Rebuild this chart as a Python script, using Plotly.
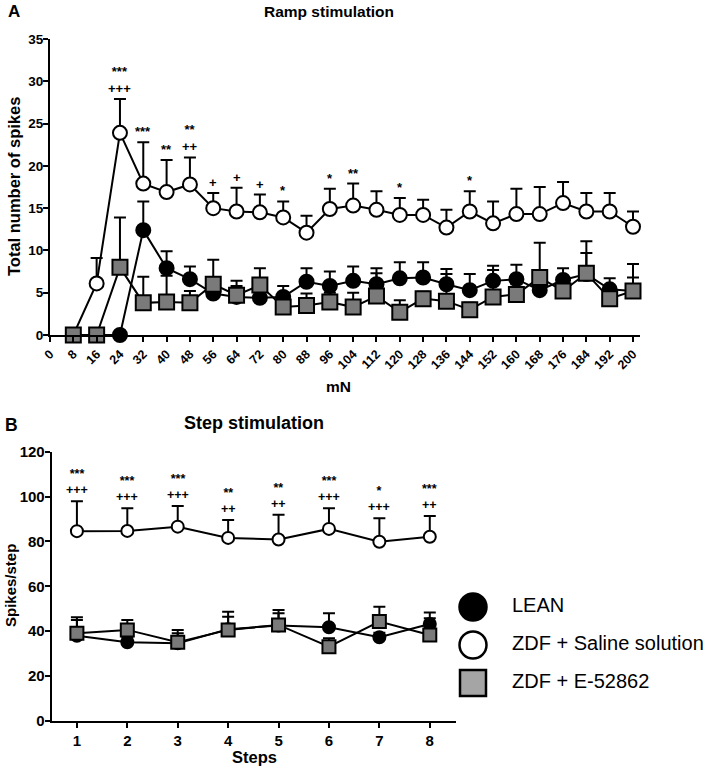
import plotly.graph_objects as go

# ---------------- Panel A data (ramp stimulation) ----------------
mN = [8, 16, 24, 32, 40, 48, 56, 64, 72, 80, 88, 96, 104, 112, 120, 128, 136, 144,
      152, 160, 168, 176, 184, 192, 200]
lean_a = [0, 0, 0, 12.4, 7.9, 6.6, 4.9, 4.5, 4.4, 4.5, 6.3, 5.8, 6.4, 6.0, 6.7, 6.8,
          6.0, 5.3, 6.4, 6.6, 5.3, 6.5, 7.2, 5.4, 5.2]
lean_a_sem = [0, 0, 0, 3.4, 2.0, 1.5, 0.6, 1.9, 0.8, 1.3, 1.6, 1.7, 1.7, 1.9, 1.9, 1.8,
              1.8, 1.9, 1.8, 1.7, 0.7, 1.4, 2.5, 1.3, 1.6]
saline_a = [0, 6.1, 23.9, 17.9, 16.9, 17.8, 15.0, 14.6, 14.5, 13.9, 12.1, 14.9, 15.3,
            14.8, 14.2, 14.2, 12.7, 14.6, 13.2, 14.3, 14.3, 15.6, 14.6, 14.6, 12.8]
saline_a_sem = [0, 3.0, 4.0, 4.9, 3.8, 3.2, 1.8, 2.8, 2.1, 1.9, 2.0, 2.4, 2.6, 2.2, 2.0,
                1.8, 2.1, 2.4, 2.6, 3.0, 3.2, 2.5, 2.2, 2.2, 1.8]
e528_a = [0, 0, 8.0, 3.8, 3.9, 3.8, 6.0, 4.7, 5.9, 3.3, 3.5, 3.9, 3.3, 4.6, 2.7, 4.3,
          4.0, 3.0, 4.5, 4.8, 6.8, 5.2, 7.3, 4.3, 5.2]
e528_a_sem = [0, 0, 5.9, 3.1, 3.1, 1.4, 2.9, 1.1, 2.0, 0.6, 1.4, 1.1, 1.7, 2.7, 1.4, 0.8,
              3.2, 0.8, 3.2, 1.2, 4.1, 0.8, 3.8, 1.2, 3.2]
x_ticks_a = list(range(0, 201, 8))
y_ticks_a = [0, 5, 10, 15, 20, 25, 30, 35]

sig_a_x = [24, 32, 40, 48, 56, 64, 72, 80, 96, 104, 120, 144]
sig_a_star = ["***", "***", "**", "**", "", "", "", "*", "*", "**", "*", "*"]
sig_a_plus = ["+++", "", "", "++", "+", "+", "+", "", "", "", "", ""]

# ---------------- Panel B data (step stimulation) ----------------
steps = [1, 2, 3, 4, 5, 6, 7, 8]
lean_b = [38.0, 35.1, 34.6, 40.9, 42.5, 41.8, 37.3, 43.2]
lean_b_sem = [7.0, 2.0, 4.5, 7.8, 7.0, 6.2, 2.0, 5.2]
saline_b = [84.6, 84.7, 86.6, 81.6, 80.9, 85.6, 79.9, 82.1]
saline_b_sem = [13.3, 10.1, 9.2, 8.0, 11.0, 9.2, 10.4, 9.3]
e528_b = [39.1, 40.6, 35.1, 40.6, 42.8, 33.1, 44.3, 38.3]
e528_b_sem = [7.1, 4.4, 5.5, 5.9, 5.2, 3.8, 6.6, 7.5]
y_ticks_b = [0, 20, 40, 60, 80, 100, 120]

sig_b_star = ["***", "***", "***", "**", "**", "***", "*", "***"]
sig_b_plus = ["+++", "+++", "+++", "++", "++", "+++", "+++", "++"]

legend_labels = ["LEAN", "ZDF + Saline solution", "ZDF + E-52862"]

W, H = 709, 767
FONT = "Liberation Sans, Arial, sans-serif"
GREY = "#7a7a7a"
GREY_LEG = "#a5a5a5"


def px(x):
    return x / W


def py(y):
    return 1 - y / H


series = [
    ("LEAN", "circle", "black", "black"),
    ("ZDF + Saline solution", "circle", "white", "black"),
    ("ZDF + E-52862", "square", GREY, "black"),
]

fig = go.Figure()

data_a = [(lean_a, lean_a_sem), (saline_a, saline_a_sem), (e528_a, e528_a_sem)]
data_b = [(lean_b, lean_b_sem), (saline_b, saline_b_sem), (e528_b, e528_b_sem)]

for (name, sym, fill, edge), (ya, ea) in zip(series, data_a):
    fig.add_trace(go.Scatter(
        x=mN, y=ya, mode="lines+markers", name=name, showlegend=False,
        xaxis="x", yaxis="y", cliponaxis=False,
        line=dict(color="black", width=2),
        marker=dict(symbol=sym, size=15 if sym == "square" else 14, color=fill,
                    opacity=1, line=dict(color=edge, width=2)),
        error_y=dict(type="data", symmetric=False, array=ea,
                     arrayminus=[0] * len(ea), color="black", thickness=2, width=6),
    ))

for (name, sym, fill, edge), (yb, eb) in zip(series, data_b):
    fig.add_trace(go.Scatter(
        x=steps, y=yb, mode="lines+markers", name=name, showlegend=False,
        xaxis="x2", yaxis="y2", cliponaxis=False,
        line=dict(color="black", width=2),
        marker=dict(symbol=sym, size=13 if sym == "square" else 12, color=fill,
                    opacity=1, line=dict(color=edge, width=2)),
        error_y=dict(type="data", symmetric=False, array=eb,
                     arrayminus=[0] * len(eb), color="black", thickness=2, width=6),
    ))

# custom legend (large symbols)
leg_fill = ["black", "white", GREY_LEG]
leg_sym = ["circle", "circle", "square"]
fig.add_trace(go.Scatter(
    x=[0] * 3, y=legend_labels, mode="markers", showlegend=False,
    xaxis="x3", yaxis="y3", cliponaxis=False,
    marker=dict(symbol=leg_sym, size=[27, 27, 26], color=leg_fill, opacity=1,
                line=dict(color="black", width=2.5)),
))
fig.add_trace(go.Scatter(
    x=[1] * 3, y=legend_labels, mode="text", text=legend_labels,
    textposition="middle right", showlegend=False, xaxis="x3", yaxis="y3",
    cliponaxis=False,
    textfont=dict(family=FONT, size=20, color="black"),
))

axis_common = dict(showline=True, linecolor="black", linewidth=2, ticks="outside",
                   ticklen=5, tickwidth=2, tickcolor="black", showgrid=False,
                   zeroline=False, automargin=False)

fig.update_layout(
    template="none",
    width=W, height=H, margin=dict(l=0, r=0, t=0, b=0, autoexpand=False),
    plot_bgcolor="white", paper_bgcolor="white",
    xaxis=dict(**axis_common, domain=[px(50), px(640)], range=[0, 202.4],
               tickvals=x_ticks_a, ticktext=[str(v) for v in x_ticks_a],
               tickangle=-45, anchor="y",
               tickfont=dict(family=FONT, size=12.5, color="black", weight="bold")),
    yaxis=dict(**axis_common, domain=[py(335), py(39)], range=[0, 35],
               tickvals=y_ticks_a, anchor="x", ticklabelstandoff=-3,
               tickfont=dict(family=FONT, size=13.5, color="black", weight="bold")),
    xaxis2=dict(**axis_common, domain=[px(51.7), px(456)], range=[0.5, 8.52],
                tickvals=steps, anchor="y2",
                tickfont=dict(family=FONT, size=15, color="black", weight="bold")),
    yaxis2=dict(**axis_common, domain=[py(721), py(451.7)], range=[0, 120],
                tickvals=y_ticks_b, anchor="x2", ticklabelstandoff=-3,
                tickfont=dict(family=FONT, size=15, color="black", weight="bold")),
    xaxis3=dict(domain=[px(453.5), px(687.5)], range=[-0.5, 5.5], visible=False,
                anchor="y3", automargin=False),
    yaxis3=dict(domain=[py(702), py(588)], type="category",
                categoryarray=legend_labels, range=[2.5, -0.5], visible=False,
                anchor="x3", automargin=False),
)

ann = []


def label(text, x, y, size, weight="bold", angle=0):
    ann.append(dict(text=text, x=px(x), y=py(y), xref="paper", yref="paper",
                    showarrow=False, textangle=angle, xanchor="center",
                    yanchor="middle",
                    font=dict(family=FONT, size=size, color="black", weight=weight)))


label("A", 14, 12, 17)
label("Ramp stimulation", 329, 11, 15.5)
label("Total number of spikes", 14, 187, 16.5, angle=-90)
label("mN", 338, 386, 15.5)
label("B", 11, 425, 17.5)
label("Step stimulation", 254, 423, 18)
label("Spikes/step", 10, 586, 15, angle=-90)
label("Steps", 254, 757, 16.5)

# significance marks, panel A
for xv, s, p in zip(sig_a_x, sig_a_star, sig_a_plus):
    i = mN.index(xv)
    top = saline_a[i] + saline_a_sem[i]
    lines = [t for t in (s, p) if t]
    ann.append(dict(text="<br>".join(lines), x=xv, y=top, xref="x", yref="y",
                    showarrow=False, yanchor="bottom", yshift=1,
                    font=dict(family=FONT, size=13, color="black", weight="bold")))

# significance marks, panel B
for xv, s, p, m, e in zip(steps, sig_b_star, sig_b_plus, saline_b, saline_b_sem):
    ann.append(dict(text=s + "<br>" + p, x=xv, y=m + e, xref="x2", yref="y2",
                    showarrow=False, yanchor="bottom", yshift=2,
                    font=dict(family=FONT, size=12.5, color="black", weight="bold")))

fig.update_layout(annotations=ann)
# remove the default 8 px page margin so the figure sits at the window origin
fig.write_html("out.html",
               config={"displayModeBar": False},
               post_script="document.body.style.margin='0';"
                           "document.body.style.overflow='hidden';")
